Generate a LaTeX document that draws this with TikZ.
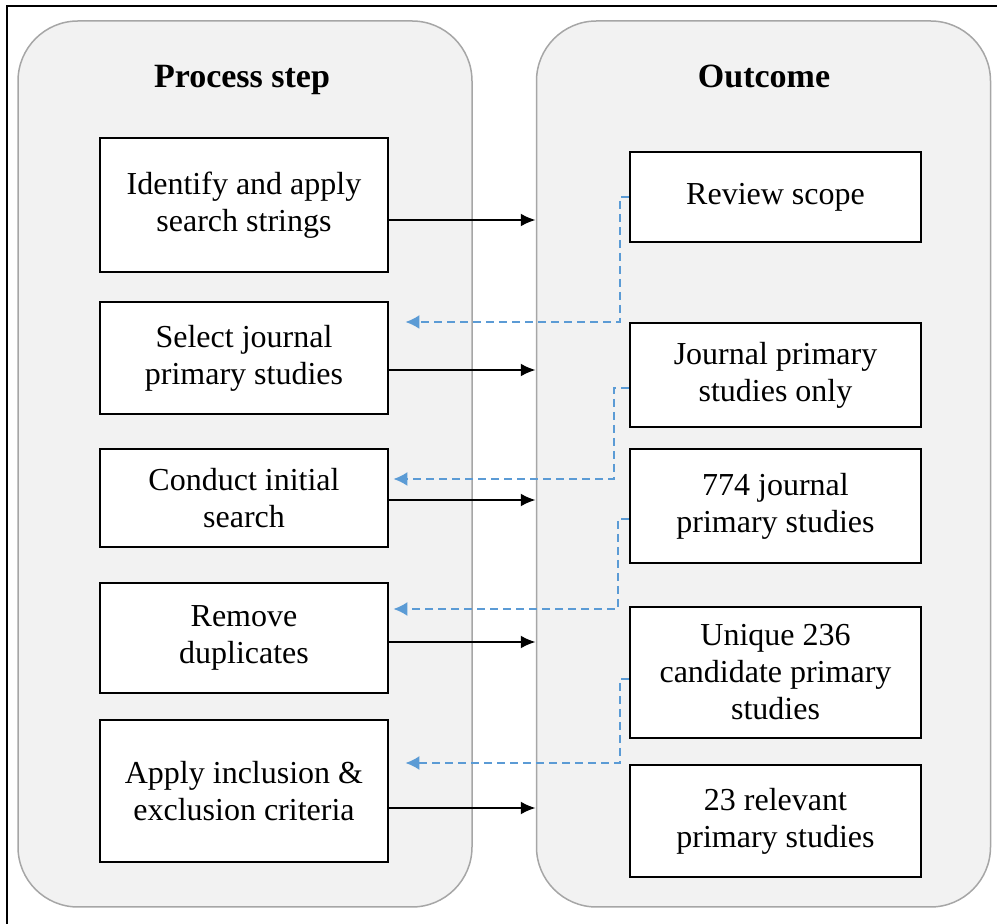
\documentclass[tikz,border=0pt]{standalone}
\usepackage{fontspec}
\setmainfont{Liberation Serif}
\usetikzlibrary{arrows.meta}
\definecolor{panelgray}{HTML}{F2F2F2}
\definecolor{paneledge}{HTML}{A6A6A6}
\definecolor{linkblue}{HTML}{5B9BD5}

\begin{document}
\begin{tikzpicture}[x = 1pt, y = 1pt,
  panel/.style = {draw = paneledge, line width = 1.5, fill = panelgray, rounded corners = 60, minimum width = 454, minimum height = 886},
  coltitle/.style = {anchor = base, font = \fontsize{34}{40}\selectfont\bfseries},
  box/.style = {draw, line width = 2.8, fill = white, align = center, inner sep = 0, font = \fontsize{32}{37}\selectfont},
  stepbox/.style = {box, minimum width = 288},
  outbox/.style = {box, minimum width = 291},
  flow/.style = {line width = 2.4, -{Latex[length = 15, width = 13]}},
  feedback/.style = {linkblue, line width = 2, dash pattern = on 8pt off 5pt, -{Latex[length = 14, width = 14]}}]
\useasboundingbox (0, 0) rectangle (997, 924);
\draw[line width = 2.2] (7, -10) -- (7, 918) -- (1010, 918);

% columns
\node[panel] (processcol) at (245, 460) {};
\node[panel] (outcomecol) at (763.5, 460) {};
\node[coltitle] (processtitle) at (242, 836) {Process step};
\node[coltitle] (outcometitle) at (764, 836) {Outcome};

% process steps
\node[stepbox, minimum height = 134] (step1) at (244, 719) {Identify and apply\\search strings};
\node[stepbox, minimum height = 112] (step2) at (244, 566) {Select journal\\primary studies};
\node[stepbox, minimum height = 98] (step3) at (244, 426) {Conduct initial\\search};
\node[stepbox, minimum height = 110] (step4) at (244, 286) {Remove\\duplicates};
\node[stepbox, minimum height = 142] (step5) at (244, 133) {Apply inclusion \&\\exclusion criteria};

% outcomes
\node[outbox, minimum height = 90] (out1) at (775.5, 727) {Review scope};
\node[outbox, minimum height = 104] (out2) at (775.5, 549) {Journal primary\\studies only};
\node[outbox, minimum height = 114] (out3) at (775.5, 418) {774 journal\\primary studies};
\node[outbox, minimum height = 131] (out4) at (775.5, 251.5) {Unique 236\\candidate primary\\studies};
\node[outbox, minimum height = 112] (out5) at (775.5, 103) {23 relevant\\primary studies};

% step to outcome
\draw[flow] ([yshift = -15]step1.east) -- ([yshift = -15]step1.east -| outcomecol.west);
\draw[flow] ([yshift = -12]step2.east) -- ([yshift = -12]step2.east -| outcomecol.west);
\draw[flow] ([yshift = -2]step3.east) -- ([yshift = -2]step3.east -| outcomecol.west);
\draw[flow] ([yshift = -4]step4.east) -- ([yshift = -4]step4.east -| outcomecol.west);
\draw[flow] ([yshift = -17]step5.east) -- ([yshift = -17]step5.east -| outcomecol.west);

% outcome feeds next step
\draw[feedback, shorten > = 16] (out1.west) -- ++(-9, 0) |- ([yshift = 36]step2.east);
\draw[feedback, shorten > = 4] ([yshift = -13]out2.west) -- ++(-15, 0) |- ([yshift = 19]step3.east);
\draw[feedback, shorten > = 4] ([yshift = -13]out3.west) -- ++(-11, 0) |- ([yshift = 29]step4.east);
\draw[feedback, shorten > = 16] ([yshift = -6.5]out4.west) -- ++(-9, 0) |- ([yshift = 28]step5.east);
\end{tikzpicture}
\end{document}
